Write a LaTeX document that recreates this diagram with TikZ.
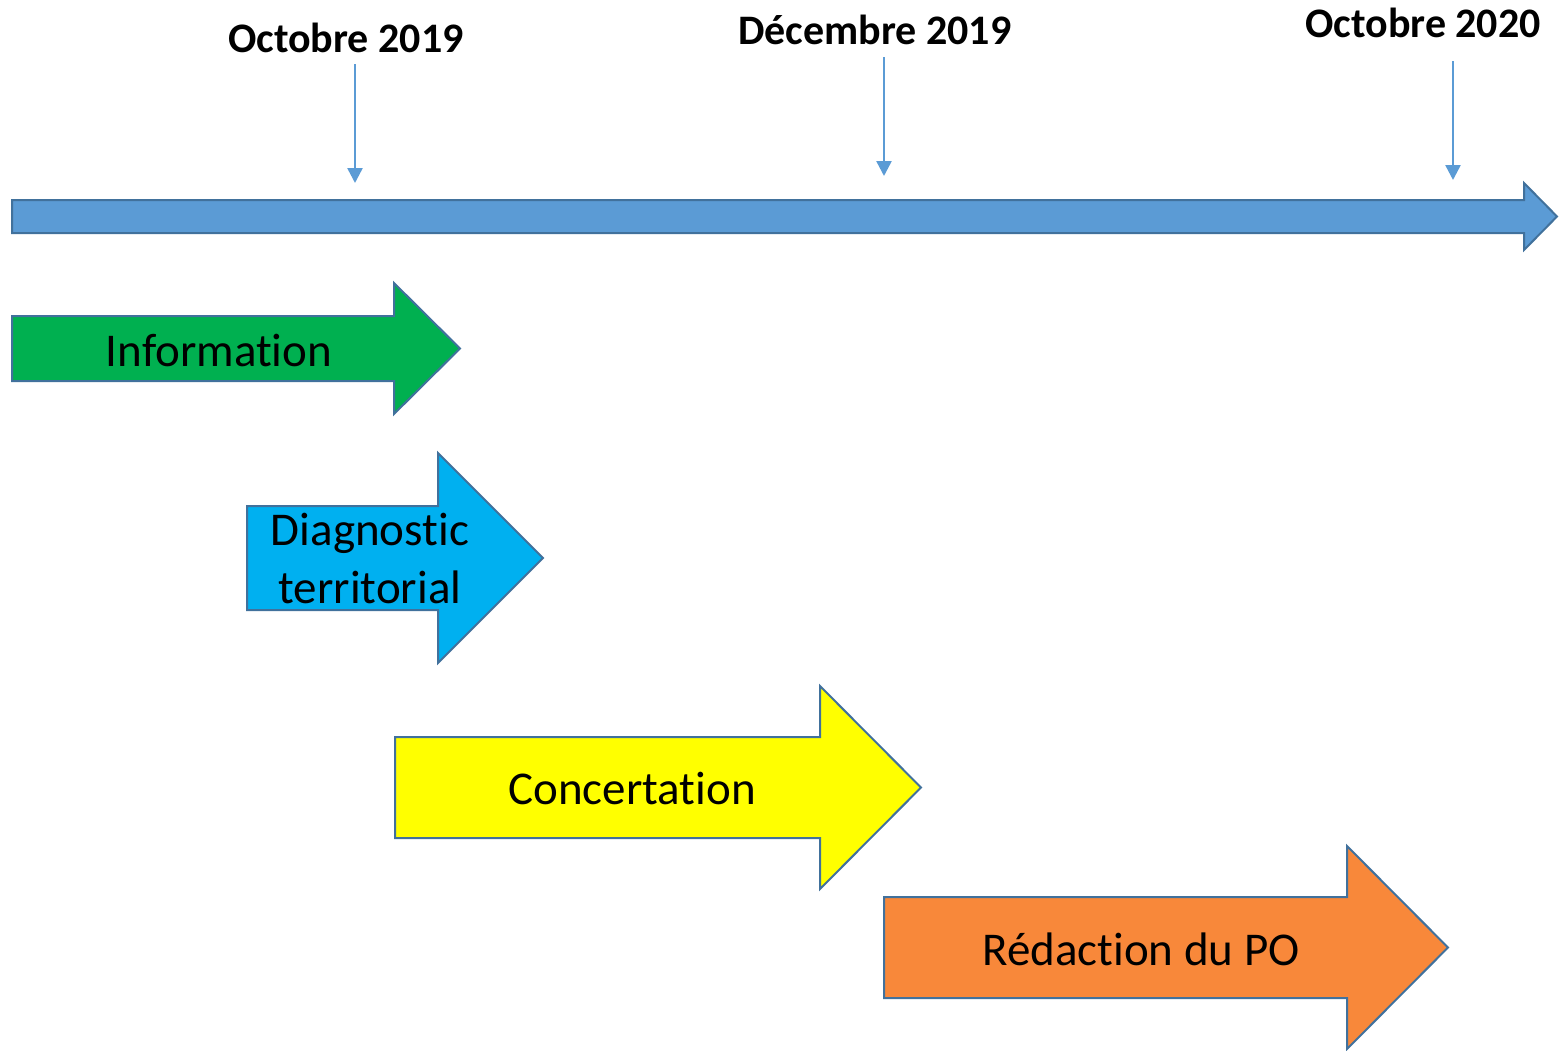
\documentclass[tikz,border=0pt]{standalone}
\usepackage{fontspec}
\setmainfont{Carlito}[Ligatures = NoCommon]
\usetikzlibrary{arrows.meta}

\definecolor{axisblue}{HTML}{5B9BD5}
\definecolor{edgeblue}{HTML}{41719C}
\definecolor{infogreen}{HTML}{00B050}
\definecolor{diagblue}{HTML}{00B0F0}
\definecolor{concyellow}{HTML}{FFFF00}
\definecolor{redorange}{HTML}{F8883A}

\tikzset{
	phase/.style = {draw = edgeblue, line width = 2pt, line join = miter},
	datelabel/.style = {anchor = base, font = \fontsize{42}{50}\selectfont\bfseries},
	phaselabel/.style = {anchor = base, align = center, font = \fontsize{47}{58}\selectfont},
	tick/.style = {draw = axisblue, line width = 2.5pt, -{Triangle[length = 15pt, width = 15pt]}}
}

\begin{document}
\begin{tikzpicture}[x = 1pt, y = -1pt]

	\useasboundingbox (0, 0) rectangle (1564, 1050);

	% Time axis
	
	\draw [phase, fill = axisblue] (12, 200) -- (1524, 200) -- (1524, 183) -- (1557, 216.5) -- (1524, 250) -- (1524, 233) -- (12, 233) -- cycle;
	
	% Dates and their ticks
	
	\node [datelabel] (oct19) at (346, 52) {Octobre 2019};
	\node [datelabel] (dec19) at (875, 44) {Décembre 2019};
	\node [datelabel] (oct20) at (1423, 37) {Octobre 2020};
	
	\coordinate (oct19 top) at (355, 64);
	\coordinate (oct19 end) at (355, 183);
	\coordinate (dec19 top) at (884, 57);
	\coordinate (dec19 end) at (884, 176);
	\coordinate (oct20 top) at (1453, 61);
	\coordinate (oct20 end) at (1453, 180);
	
	\draw [tick] (oct19 top) -- (oct19 end);
	\draw [tick] (dec19 top) -- (dec19 end);
	\draw [tick] (oct20 top) -- (oct20 end);
	
	% Phases
	
	\draw [phase, fill = infogreen] (12, 316) -- (394, 316) -- (394, 283) -- (460, 348.5) -- (394, 414) -- (394, 381) -- (12, 381) -- cycle;
	\draw [phase, fill = diagblue] (247, 506) -- (438, 506) -- (438, 453) -- (543, 558) -- (438, 663) -- (438, 610) -- (247, 610) -- cycle;
	\draw [phase, fill = concyellow] (395, 737) -- (820, 737) -- (820, 686) -- (921, 787.5) -- (820, 889) -- (820, 838) -- (395, 838) -- cycle;
	\draw [phase, fill = redorange] (884, 897) -- (1347, 897) -- (1347, 846) -- (1448, 947.5) -- (1347, 1049) -- (1347, 998) -- (884, 998) -- cycle;
	
	\node [phaselabel] (info) at (219, 366) {Information};
	\node [phaselabel] (diag) at (370, 603) {Diagnostic\\territorial};
	\node [phaselabel] (conc) at (632, 804) {Concertation};
	\node [phaselabel] (redac) at (1141, 965) {Rédaction du PO};

\end{tikzpicture}
\end{document}
